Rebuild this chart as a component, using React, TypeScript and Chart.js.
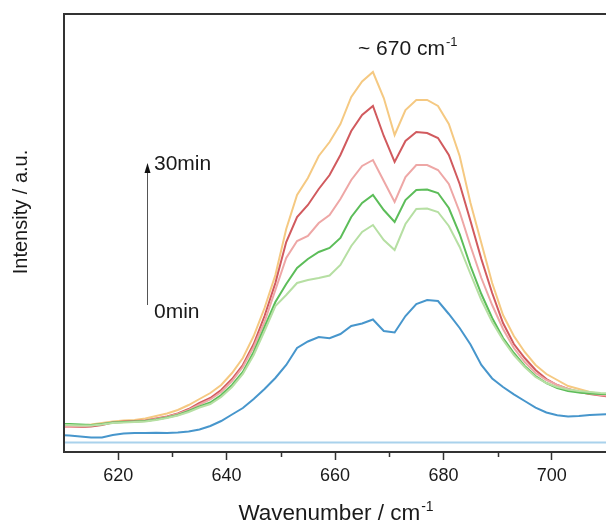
import { useEffect, useRef } from "react";
import { Chart, registerables } from "chart.js";

Chart.register(...registerables);

// Raman shift axis (cm^-1)
const wavenumbers = [
  609, 611, 613, 615, 617, 619, 621, 623, 625, 627, 629, 631, 633, 635, 637, 639,
  641, 643, 645, 647, 649, 651, 653, 655, 657, 659, 661, 663, 665, 667, 669, 671,
  673, 675, 677, 679, 681, 683, 685, 687, 689, 691, 693, 695, 697, 699, 701, 703,
  705, 707, 709, 711,
];

// Intensity (a.u.) of successive scans, 0 min → 30 min
const scan0 = [
  17, 16.5, 15.5, 14.5, 14.5, 17, 18.5, 19, 19, 19.3, 19, 19.5, 20.5, 22.5, 26, 31,
  37.5, 44, 53, 63, 74, 87, 104, 110.5, 115, 113.7, 118, 126, 128.5, 132.5, 121, 119.5,
  136, 148, 152, 151, 138, 124, 107.5, 87, 73.5, 65, 57.7, 51, 44.4, 39.5, 36.8, 35.5,
  36, 37, 37.5, 38,
];
const scan1 = [
  27, 27, 26.5, 26.5, 27.5, 29, 29.5, 30, 30.5, 32, 34, 36.5, 40, 44.5, 48, 55,
  65, 78, 97, 121, 146, 157, 169, 172, 174, 176.5, 187, 206, 220, 227, 212, 202,
  228, 243, 243.5, 240, 226, 205, 178, 152, 130, 112, 97, 85, 75, 69, 65, 62.5,
  61, 60, 59, 58.5,
];
const scan2 = [
  28, 28, 27.5, 27, 28, 29.5, 30, 30.5, 31, 32.5, 34.5, 37, 41, 45.5, 49.5, 57,
  67, 80, 100, 125, 150, 168, 184, 193, 200, 204, 214, 235, 249, 257, 242, 230,
  252, 262, 262.5, 259, 244, 218, 186, 158, 134, 114, 99, 86, 76, 69, 64, 61,
  59.5, 58.5, 58, 58,
];
const scan3 = [
  25, 25, 25.5, 26.5, 28, 29.5, 30, 30.5, 31, 33, 35, 38, 42, 47.5, 52.5, 60,
  71, 85, 105, 130, 162, 194, 211, 216, 229, 237, 253, 272, 286, 292, 271, 250,
  275, 287, 287, 282, 268, 240, 206, 174, 147, 123, 104, 90, 79, 72, 67, 63,
  60.5, 58.5, 57, 56,
];
const scan4 = [
  25, 25, 25, 25.5, 27, 29.5, 30.5, 31, 31.5, 33.5, 35.5, 38.5, 43, 49, 54, 62,
  73, 87, 108, 136, 169, 210, 235, 247, 263, 277, 297, 321, 337, 346, 316, 290,
  311, 320, 319, 314, 297, 268, 231, 193, 159, 129, 108, 94, 82, 73, 67, 63,
  60, 58, 56.5, 55,
];
const scan5 = [
  26, 26, 26.5, 27.5, 29, 30.5, 31.5, 32, 33.5, 36, 38.5, 42, 47, 53, 59, 67,
  79, 94, 116, 144, 177, 223, 257, 274, 296, 310, 328, 355, 370.5, 380, 354, 317,
  342, 352, 352, 346, 328, 296, 249, 209, 169, 137, 116, 100, 87, 78, 72, 66,
  63, 60, 58, 56,
];

// Flat reference level drawn across the plot
const baselineX = [609, 712];
const baselineY = [9.5, 9.5];

const seriesValues = [scan0, scan1, scan2, scan3, scan4, scan5];
const seriesColors = ["#4796cc", "#b6dfa3", "#5cbd59", "#eea7a6", "#d15a5e", "#f5c982"];

const xMin = 610;
const xMax = 710;
const yMin = 0;
const yMax = 438;
const majorTicks = [620, 640, 660, 680, 700];
const minorTicks = [630, 650, 670, 690];

const peakLabel = "~ 670 cm";
const timeStart = "0min";
const timeEnd = "30min";
const xTitle = "Wavenumber / cm";
const yTitle = "Intensity / a.u.";
const FONT = '"Liberation Sans", Arial, Helvetica, sans-serif';

function drawWithSup(ctx: CanvasRenderingContext2D, text: string, sup: string, x: number, y: number, size: number, align: "left" | "center") {
  ctx.font = `${size}px ${FONT}`;
  const mainW = ctx.measureText(text).width;
  const supSize = Math.round(size * 0.62);
  ctx.font = `${supSize}px ${FONT}`;
  const supW = ctx.measureText(sup).width;
  const total = mainW + 1 + supW;
  const x0 = align === "center" ? x - total / 2 : x;
  ctx.textAlign = "left";
  ctx.textBaseline = "alphabetic";
  ctx.font = `${size}px ${FONT}`;
  ctx.fillText(text, x0, y);
  ctx.font = `${supSize}px ${FONT}`;
  ctx.fillText(sup, x0 + mainW + 1, y - size * 0.42);
}

const decorations = {
  id: "decorations",
  afterDatasetsDraw(chart: any) {
    const { ctx, chartArea, scales } = chart;
    const xs = scales.x;
    ctx.save();
    // frame: top and left edges
    ctx.strokeStyle = "#333";
    ctx.lineWidth = 2;
    ctx.beginPath();
    ctx.moveTo(chartArea.left, chartArea.bottom);
    ctx.lineTo(chartArea.left, chartArea.top);
    ctx.lineTo(chartArea.right, chartArea.top);
    ctx.stroke();
    // minor ticks
    ctx.lineWidth = 1.5;
    ctx.beginPath();
    for (const v of minorTicks) {
      const px = Math.round(xs.getPixelForValue(v)) + 0.5;
      ctx.moveTo(px, chartArea.bottom);
      ctx.lineTo(px, chartArea.bottom + 5);
    }
    ctx.stroke();

    ctx.fillStyle = "#1a1a1a";
    // peak annotation
    drawWithSup(ctx, peakLabel, "-1", 358, 55, 21, "left");
    // time arrow
    ctx.strokeStyle = "#555";
    ctx.lineWidth = 1;
    ctx.beginPath();
    ctx.moveTo(147.5, 305);
    ctx.lineTo(147.5, 170);
    ctx.stroke();
    ctx.fillStyle = "#111";
    ctx.beginPath();
    ctx.moveTo(147.5, 163);
    ctx.lineTo(150.5, 173);
    ctx.lineTo(144.5, 173);
    ctx.closePath();
    ctx.fill();
    ctx.fillStyle = "#1a1a1a";
    ctx.font = `21px ${FONT}`;
    ctx.textAlign = "left";
    ctx.textBaseline = "alphabetic";
    ctx.fillText(timeEnd, 154, 170);
    ctx.fillText(timeStart, 154, 318);
    // axis titles
    drawWithSup(ctx, xTitle, "-1", (chartArea.left + chartArea.right) / 2 + 1, 520, 22.5, "center");
    ctx.translate(21, 212);
    ctx.rotate(-Math.PI / 2);
    ctx.font = `20px ${FONT}`;
    ctx.textAlign = "center";
    ctx.textBaseline = "middle";
    ctx.fillText(yTitle, 0, 0);
    ctx.restore();
  },
};

export default function App() {
  const canvasRef = useRef<HTMLCanvasElement | null>(null);

  useEffect(() => {
    const canvas = canvasRef.current;
    if (!canvas) return;
    const datasets: any[] = seriesValues.map((vals, i) => ({
      label: `scan ${i}`,
      data: wavenumbers.map((x, j) => ({ x, y: vals[j] })),
      borderColor: seriesColors[i],
      borderWidth: 2,
      pointRadius: 0,
      tension: 0,
      fill: false,
    }));
    datasets.unshift({
      label: "baseline",
      data: baselineX.map((x, j) => ({ x, y: baselineY[j] })),
      borderColor: "#a9d2ec",
      borderWidth: 2,
      pointRadius: 0,
      fill: false,
    });

    const chart = new Chart(canvas, {
      type: "line",
      data: { datasets },
      options: {
        animation: false,
        responsive: false,
        maintainAspectRatio: false,
        layout: { padding: { left: 64, top: 14, right: 0, bottom: 0 } },
        plugins: { legend: { display: false }, tooltip: { enabled: false } },
        scales: {
          x: {
            type: "linear",
            min: xMin,
            max: xMax,
            afterBuildTicks: (s: any) => {
              s.ticks = majorTicks.map((v) => ({ value: v }));
            },
            afterFit: (s: any) => {
              s.height = 72;
            },
            grid: {
              display: true,
              drawOnChartArea: false,
              drawTicks: true,
              tickLength: 8,
              tickWidth: 1.5,
              tickColor: "#333",
            },
            border: { display: true, color: "#333", width: 2 },
            ticks: {
              padding: 5,
              color: "#1a1a1a",
              font: { family: FONT, size: 18 },
              maxRotation: 0,
              autoSkip: false,
            },
          },
          y: {
            type: "linear",
            display: false,
            min: yMin,
            max: yMax,
          },
        },
      },
      plugins: [decorations],
    });
    return () => chart.destroy();
  }, []);

  return (
    <div style={{ position: "absolute", left: 0, top: 0, width: 606, height: 524, background: "#fff" }}>
      <canvas ref={canvasRef} width={606} height={524} style={{ display: "block" }} />
    </div>
  );
}
